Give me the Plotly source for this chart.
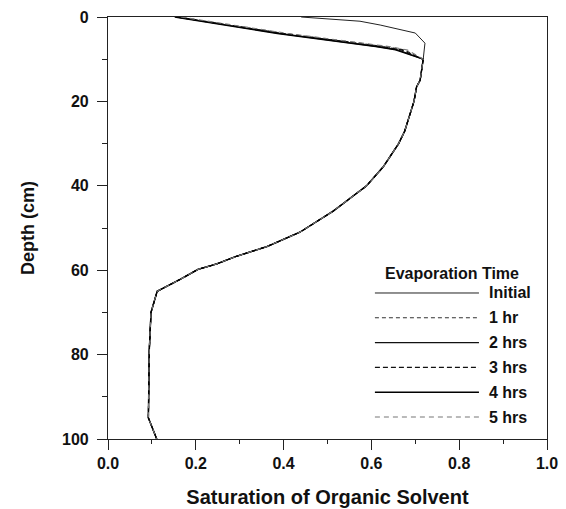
import plotly.graph_objects as go

# ---- data ----
series_names = ["Initial", "1 hr", "2 hrs", "3 hrs", "4 hrs", "5 hrs"]

# near-surface part (depth 0-10 cm), differs by series
surf_depth_initial = [0, 1.0, 1.9, 3.8, 6.2, 10]
surf_sat_initial = [0.44, 0.574, 0.62, 0.70, 0.722, 0.718]

surf_depth = [0, 3.9, 7.0, 7.8, 10]
surf_sat_1hr = [0.160, 0.400, 0.630, 0.675, 0.718]
surf_sat_2hr = [0.155, 0.390, 0.615, 0.660, 0.718]
surf_sat_3hr = [0.158, 0.396, 0.625, 0.668, 0.718]
surf_sat_4hr = [0.152, 0.386, 0.610, 0.655, 0.718]
surf_sat_5hr = [0.166, 0.410, 0.640, 0.682, 0.718]

# deeper part (shared by all series)
deep_depth = [15, 16.5, 20, 23, 27, 30, 35.5, 40, 46, 51, 54.4, 56.8, 58.5, 59.8, 62.2, 65, 70, 79, 95, 100]
deep_sat = [0.711, 0.703, 0.697, 0.688, 0.676, 0.662, 0.627, 0.589, 0.513, 0.437, 0.362, 0.290, 0.248, 0.205,
            0.164, 0.112, 0.098, 0.094, 0.092, 0.111]

x_ticks = [0.0, 0.2, 0.4, 0.6, 0.8, 1.0]
x_ticklabels = ["0.0", "0.2", "0.4", "0.6", "0.8", "1.0"]
y_ticks = [0, 20, 40, 60, 80, 100]

# ---- styles ----
styles = [
    dict(color="#222222", width=1.0, dash="solid"),
    dict(color="#333333", width=1.1, dash="4px,3px"),
    dict(color="#111111", width=1.2, dash="solid"),
    dict(color="#111111", width=1.3, dash="5px,3px"),
    dict(color="#000000", width=1.4, dash="solid"),
    dict(color="#777777", width=1.1, dash="5px,4px"),
]

surfaces = [
    (surf_sat_initial, surf_depth_initial),
    (surf_sat_1hr, surf_depth),
    (surf_sat_2hr, surf_depth),
    (surf_sat_3hr, surf_depth),
    (surf_sat_4hr, surf_depth),
    (surf_sat_5hr, surf_depth),
]

FONT = "Liberation Sans, Arial, sans-serif"

fig = go.Figure()
for name, (sx, sy), st in zip(series_names, surfaces, styles):
    fig.add_trace(go.Scatter(
        x=list(sx) + deep_sat, y=list(sy) + deep_depth, mode="lines", name=name,
        line=dict(color=st["color"], width=st["width"], dash=st["dash"]),
        showlegend=False,
    ))

# manual legend (long line samples like the original)
leg_x0, leg_x1, leg_text_x = 0.608, 0.845, 0.863
leg_title_y = 0.393
leg_row0, leg_step = 0.346, 0.0588
fig.add_annotation(text="<b>Evaporation Time</b>", x=0.784, y=leg_title_y, xref="paper", yref="paper",
                   showarrow=False, xanchor="center", yanchor="middle",
                   font=dict(family=FONT, size=16, color="#111111"))
for i, (name, st) in enumerate(zip(series_names, styles)):
    yy = leg_row0 - i * leg_step
    fig.add_shape(type="line", xref="paper", yref="paper", x0=leg_x0, x1=leg_x1, y0=yy, y1=yy,
                  line=dict(color=st["color"], width=st["width"], dash=st["dash"]))
    fig.add_annotation(text="<b>" + name + "</b>", x=leg_text_x, y=yy, xref="paper", yref="paper",
                       showarrow=False, xanchor="left", yanchor="middle",
                       font=dict(family=FONT, size=16, color="#111111"))

axis_common = dict(
    showgrid=False, zeroline=False, showline=True, linecolor="#222222", linewidth=1.2,
    mirror=True, ticks="outside", ticklen=10, tickwidth=1.2, tickcolor="#222222",
    automargin=False,
    tickfont=dict(family=FONT, size=16, color="#111111", weight="bold"),
)

fig.update_xaxes(
    range=[0, 1], tickvals=x_ticks, ticktext=x_ticklabels,
    title=dict(text="Saturation of Organic Solvent", standoff=18,
               font=dict(family=FONT, size=20, color="#111111", weight="bold")),
    minor=dict(ticks="outside", ticklen=4, dtick=0.1, tickwidth=1.1, tickcolor="#222222", showgrid=False),
    **axis_common,
)
fig.update_yaxes(
    range=[100, 0], tickvals=y_ticks, ticklabelstandoff=5,
    title=dict(text="Depth (cm)", standoff=22,
               font=dict(family=FONT, size=18, color="#111111", weight="bold")),
    minor=dict(ticks="outside", ticklen=5, dtick=10, tickwidth=1.1, tickcolor="#222222", showgrid=False),
    **axis_common,
)

fig.update_layout(
    width=566, height=509,
    margin=dict(l=108, r=19, t=17, b=70),
    plot_bgcolor="white", paper_bgcolor="white",
    showlegend=False,
)

fig.write_html("out.html")
